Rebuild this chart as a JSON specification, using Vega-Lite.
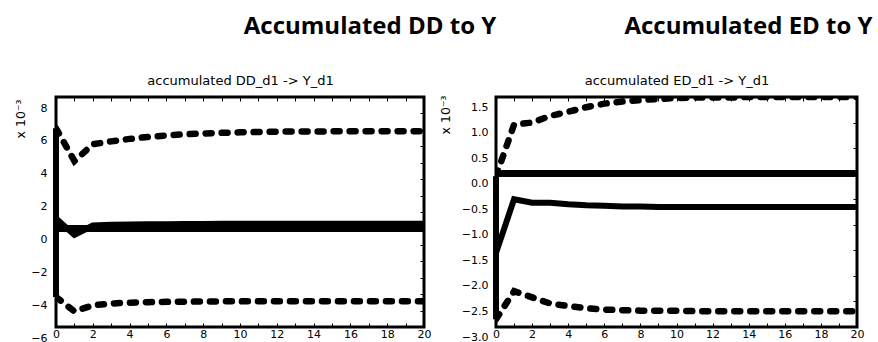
{
  "$schema": "https://vega.github.io/schema/vega-lite/v6.json",
  "padding": {"left": 12, "top": 13, "right": 0, "bottom": 0},
  "background": "white",
  "spacing": 72,
  "bounds": "flush",
  "datasets": {
    "dd": [
      {"h": 0, "lower": -4.17, "resp": 0.6, "upper": 6.1},
      {"h": 1, "lower": -5.05, "resp": -0.4, "upper": 4.1},
      {"h": 2, "lower": -4.68, "resp": 0.18, "upper": 5.12},
      {"h": 3, "lower": -4.57, "resp": 0.22, "upper": 5.3},
      {"h": 4, "lower": -4.52, "resp": 0.24, "upper": 5.45},
      {"h": 5, "lower": -4.49, "resp": 0.25, "upper": 5.57},
      {"h": 6, "lower": -4.47, "resp": 0.26, "upper": 5.66},
      {"h": 7, "lower": -4.46, "resp": 0.27, "upper": 5.73},
      {"h": 8, "lower": -4.45, "resp": 0.27, "upper": 5.78},
      {"h": 9, "lower": -4.44, "resp": 0.28, "upper": 5.82},
      {"h": 10, "lower": -4.44, "resp": 0.28, "upper": 5.85},
      {"h": 11, "lower": -4.43, "resp": 0.28, "upper": 5.87},
      {"h": 12, "lower": -4.43, "resp": 0.28, "upper": 5.89},
      {"h": 13, "lower": -4.43, "resp": 0.28, "upper": 5.9},
      {"h": 14, "lower": -4.43, "resp": 0.28, "upper": 5.9},
      {"h": 15, "lower": -4.43, "resp": 0.28, "upper": 5.91},
      {"h": 16, "lower": -4.43, "resp": 0.28, "upper": 5.91},
      {"h": 17, "lower": -4.43, "resp": 0.28, "upper": 5.92},
      {"h": 18, "lower": -4.43, "resp": 0.28, "upper": 5.92},
      {"h": 19, "lower": -4.43, "resp": 0.28, "upper": 5.92},
      {"h": 20, "lower": -4.43, "resp": 0.28, "upper": 5.92}
    ],
    "ed": [
      {"h": 0, "lower": -2.85, "resp": -1.55, "upper": -0.05},
      {"h": 1, "lower": -2.3, "resp": -0.5, "upper": 0.96},
      {"h": 2, "lower": -2.42, "resp": -0.57, "upper": 1.0},
      {"h": 3, "lower": -2.54, "resp": -0.57, "upper": 1.13},
      {"h": 4, "lower": -2.59, "resp": -0.6, "upper": 1.21},
      {"h": 5, "lower": -2.63, "resp": -0.62, "upper": 1.3},
      {"h": 6, "lower": -2.66, "resp": -0.63, "upper": 1.37},
      {"h": 7, "lower": -2.67, "resp": -0.64, "upper": 1.41},
      {"h": 8, "lower": -2.68, "resp": -0.64, "upper": 1.44},
      {"h": 9, "lower": -2.68, "resp": -0.65, "upper": 1.46},
      {"h": 10, "lower": -2.68, "resp": -0.65, "upper": 1.48},
      {"h": 11, "lower": -2.69, "resp": -0.65, "upper": 1.49},
      {"h": 12, "lower": -2.69, "resp": -0.65, "upper": 1.49},
      {"h": 13, "lower": -2.69, "resp": -0.65, "upper": 1.49},
      {"h": 14, "lower": -2.69, "resp": -0.65, "upper": 1.5},
      {"h": 15, "lower": -2.69, "resp": -0.65, "upper": 1.5},
      {"h": 16, "lower": -2.69, "resp": -0.65, "upper": 1.5},
      {"h": 17, "lower": -2.69, "resp": -0.65, "upper": 1.5},
      {"h": 18, "lower": -2.69, "resp": -0.65, "upper": 1.5},
      {"h": 19, "lower": -2.69, "resp": -0.65, "upper": 1.5},
      {"h": 20, "lower": -2.69, "resp": -0.65, "upper": 1.5}
    ]
  },
  "hconcat": [
    {
      "width": 368,
      "height": 230,
      "data": {"name": "dd"},
      "title": {"text": "Accumulated DD to Y", "font": "Open Sans", "fontWeight": "bold", "fontSize": 24, "color": "black", "anchor": "middle", "dx": 130, "offset": 16, "baseline": "alphabetic"},
      "resolve": {"axis": {"x": "independent", "y": "independent"}},
      "layer": [
        {
          "mark": {"type": "rule", "color": "black", "strokeWidth": 6},
          "encoding": {"y": {"datum": 0, "type": "quantitative", "scale": {"domain": [-6, 8], "nice": false}, "axis": null}}
        },
        {
          "mark": {"type": "line", "color": "black", "strokeWidth": 6.5, "strokeDash": [6, 10], "strokeCap": "round", "clip": true},
          "encoding": {
            "x": {"field": "h", "type": "quantitative", "scale": {"domain": [0, 20], "nice": false},
                  "axis": {"orient": "bottom", "title": null, "values": [0,1,2,3,4,5,6,7,8,9,10,11,12,13,14,15,16,17,18,19,20], "labelExpr": "datum.value % 2 == 0 ? datum.label : ''", "tickSize": -4, "labelPadding": 5, "labelFlush": false}},
            "y": {"field": "upper", "type": "quantitative", "scale": {"domain": [-6, 8], "nice": false},
                  "axis": {"orient": "left", "values": [-6,-4,-2,0,2,4,6,8], "format": "d", "ticks": false, "labelPadding": 9, "labelOffset": 11, "labelFlush": false, "title": "x 10⁻³", "titleAngle": 270, "titleAlign": "right", "titleBaseline": "middle", "titleX": -36, "titleY": 2, "titleFontSize": 12.5}}
          }
        },
        {
          "mark": {"type": "line", "color": "black", "strokeWidth": 6.5, "strokeDash": [6, 10], "strokeCap": "round", "clip": true},
          "encoding": {
            "x": {"field": "h", "type": "quantitative", "scale": {"domain": [0, 20], "nice": false},
                  "axis": {"orient": "top", "labels": false, "values": [0,1,2,3,4,5,6,7,8,9,10,11,12,13,14,15,16,17,18,19,20], "tickSize": -4, "title": "accumulated DD_d1 -> Y_d1", "titleBaseline": "alphabetic", "titleY": -13, "titleFontSize": 13}},
            "y": {"field": "lower", "type": "quantitative", "scale": {"domain": [-6, 8], "nice": false},
                  "axis": {"orient": "right", "labels": false, "values": [-6,-5,-4,-3,-2,-1,0,1,2,3,4,5,6,7,8], "tickSize": -4, "title": null}}
          }
        },
        {
          "mark": {"type": "line", "color": "black", "strokeWidth": 6, "clip": true},
          "encoding": {
            "x": {"field": "h", "type": "quantitative", "scale": {"domain": [0, 20], "nice": false}, "axis": null},
            "y": {"field": "resp", "type": "quantitative", "scale": {"domain": [-6, 8], "nice": false}, "axis": null}
          }
        },
        {
          "transform": [{"filter": "datum.h == 0"}],
          "mark": {"type": "rule", "color": "black", "strokeWidth": 6},
          "encoding": {
            "x": {"field": "h", "type": "quantitative", "scale": {"domain": [0, 20], "nice": false}, "axis": null},
            "y": {"field": "lower", "type": "quantitative", "scale": {"domain": [-6, 8], "nice": false}, "axis": null},
            "y2": {"field": "upper"}
          }
        }
      ]
    },
    {
      "width": 361,
      "height": 230,
      "data": {"name": "ed"},
      "title": {"text": "Accumulated ED to Y", "font": "Open Sans", "fontWeight": "bold", "fontSize": 24, "color": "black", "anchor": "middle", "dx": 72, "offset": 16, "baseline": "alphabetic"},
      "resolve": {"axis": {"x": "independent", "y": "independent"}},
      "layer": [
        {
          "mark": {"type": "rule", "color": "black", "strokeWidth": 6},
          "encoding": {"y": {"datum": 0, "type": "quantitative", "scale": {"domain": [-3, 1.5], "nice": false}, "axis": null}}
        },
        {
          "mark": {"type": "line", "color": "black", "strokeWidth": 6.5, "strokeDash": [6, 10], "strokeCap": "round", "clip": true},
          "encoding": {
            "x": {"field": "h", "type": "quantitative", "scale": {"domain": [0, 20], "nice": false},
                  "axis": {"orient": "bottom", "title": null, "values": [0,1,2,3,4,5,6,7,8,9,10,11,12,13,14,15,16,17,18,19,20], "labelExpr": "datum.value % 2 == 0 ? datum.label : ''", "tickSize": -4, "labelPadding": 5, "labelFlush": false}},
            "y": {"field": "upper", "type": "quantitative", "scale": {"domain": [-3, 1.5], "nice": false},
                  "axis": {"orient": "left", "values": [-3,-2.5,-2,-1.5,-1,-0.5,0,0.5,1,1.5], "format": ".1f", "ticks": false, "labelPadding": 8, "labelOffset": 10, "labelFlush": false, "title": "x 10⁻³", "titleAngle": 270, "titleAlign": "right", "titleBaseline": "middle", "titleX": -51, "titleY": -2, "titleFontSize": 12.5}}
          }
        },
        {
          "mark": {"type": "line", "color": "black", "strokeWidth": 6.5, "strokeDash": [6, 10], "strokeCap": "round", "clip": true},
          "encoding": {
            "x": {"field": "h", "type": "quantitative", "scale": {"domain": [0, 20], "nice": false},
                  "axis": {"orient": "top", "labels": false, "values": [0,1,2,3,4,5,6,7,8,9,10,11,12,13,14,15,16,17,18,19,20], "tickSize": -4, "title": "accumulated ED_d1 -> Y_d1", "titleBaseline": "alphabetic", "titleY": -13, "titleFontSize": 13}},
            "y": {"field": "lower", "type": "quantitative", "scale": {"domain": [-3, 1.5], "nice": false},
                  "axis": {"orient": "right", "labels": false, "values": [-3,-2.5,-2,-1.5,-1,-0.5,0,0.5,1,1.5], "tickSize": -4, "title": null}}
          }
        },
        {
          "mark": {"type": "line", "color": "black", "strokeWidth": 6, "clip": true},
          "encoding": {
            "x": {"field": "h", "type": "quantitative", "scale": {"domain": [0, 20], "nice": false}, "axis": null},
            "y": {"field": "resp", "type": "quantitative", "scale": {"domain": [-3, 1.5], "nice": false}, "axis": null}
          }
        },
        {
          "transform": [{"filter": "datum.h == 0"}],
          "mark": {"type": "rule", "color": "black", "strokeWidth": 6},
          "encoding": {
            "x": {"field": "h", "type": "quantitative", "scale": {"domain": [0, 20], "nice": false}, "axis": null},
            "y": {"field": "lower", "type": "quantitative", "scale": {"domain": [-3, 1.5], "nice": false}, "axis": null},
            "y2": {"field": "upper"}
          }
        }
      ]
    }
  ],
  "config": {
    "view": {"stroke": "black", "strokeWidth": 3},
    "axis": {"labelFont": "DejaVu Sans", "labelFontSize": 11, "labelColor": "black", "tickColor": "black", "tickWidth": 1, "domain": false, "grid": false, "titleFont": "DejaVu Sans", "titleFontWeight": "normal", "titleColor": "black"}
  }
}
